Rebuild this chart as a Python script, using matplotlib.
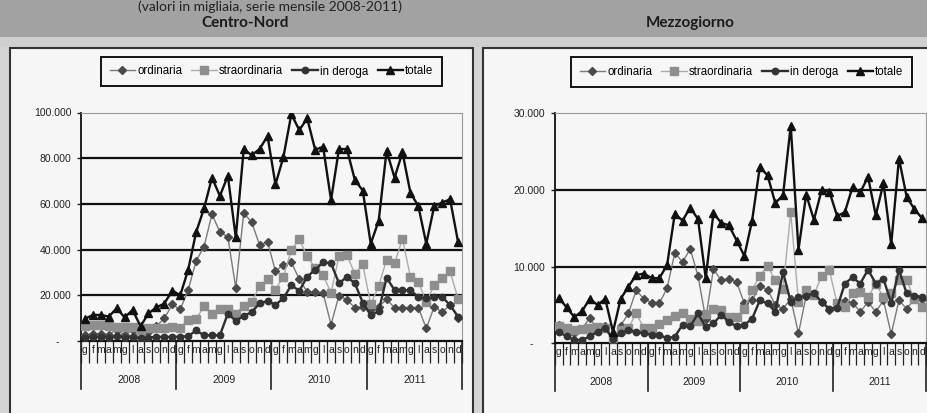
import numpy as np
import matplotlib
matplotlib.use("Agg")
import matplotlib.pyplot as plt
from matplotlib.patches import Rectangle
from matplotlib.lines import Line2D
import matplotlib.transforms as mtransforms

# ---------------- data ----------------
months = ["g", "f", "m", "a", "m", "g", "l", "a", "s", "o", "n", "d"]
years = ["2008", "2009", "2010", "2011"]
series_names = ["ordinaria", "straordinaria", "in deroga", "totale"]

cn_ordinaria = [2500, 3000, 3200, 2800, 5000, 2500, 5000, 600, 4000, 6500, 9900, 16000,
                13800, 22300, 35000, 41300, 55500, 47700, 45500, 23200, 56000, 52000, 42000, 43500,
                30500, 33400, 34500, 27000, 21500, 21300, 21000, 7200, 19900, 18000, 14600, 15000,
                14000, 15000, 18200, 14600, 14600, 14600, 14600, 5500, 15000, 12600, 15800, 10000]
cn_straordinaria = [6500, 6800, 6800, 6500, 6000, 6200, 6000, 5000, 5500, 5800, 5800, 6000,
                    5800, 9300, 9500, 15300, 11900, 13900, 14200, 12000, 15500, 17000, 24000, 27200,
                    22500, 28100, 39800, 44600, 37000, 32000, 28800, 21000, 37100, 37500, 29500, 33500,
                    16000, 24000, 35600, 34000, 44800, 28000, 25800, 17200, 24400, 27500, 30500, 18500]
cn_deroga = [1500, 1800, 1800, 1500, 2000, 1500, 1800, 1200, 1500, 1800, 1800, 1800,
             1900, 2100, 4600, 2500, 2500, 2500, 12000, 8800, 11000, 12600, 16500, 17500,
             15800, 18700, 24500, 21900, 28200, 31100, 34500, 34000, 25300, 28000, 25300, 16800,
             11300, 13000, 27700, 22300, 22200, 22200, 19300, 18700, 19300, 19300, 15700, 10700]
cn_totale = [9700, 11400, 11400, 10700, 14300, 10300, 13600, 6400, 12100, 14700, 16400, 22100,
             20000, 31100, 47600, 58000, 71500, 63500, 72300, 45300, 84000, 81300, 84000, 89700,
             68500, 80500, 99300, 92300, 97400, 83700, 85000, 61700, 84000, 84000, 70500, 65800,
             42600, 52500, 83300, 71500, 82500, 64900, 59000, 42600, 59000, 60600, 62000, 43400]

mz_ordinaria = [2400, 1900, 1300, 1900, 3300, 1800, 2300, 300, 2300, 3900, 6900, 5800,
                5300, 5200, 7200, 11800, 10600, 12300, 8800, 3200, 9700, 8200, 8400, 8000,
                5200, 5600, 7500, 7000, 5000, 4500, 5800, 1300, 6200, 6300, 5400, 4300,
                4800, 5500, 5300, 4100, 5400, 4100, 5600, 1200, 5600, 4500, 5800, 5800]
mz_straordinaria = [2200, 2000, 1800, 1900, 2000, 2100, 2000, 700, 1800, 2000, 3900, 2000,
                    2000, 2500, 3000, 3600, 3900, 3200, 2900, 3800, 4500, 4300, 3400, 3400,
                    4500, 6900, 8800, 10100, 8200, 7100, 17100, 5400, 6900, 6300, 8800, 9500,
                    5200, 4700, 6500, 6700, 6000, 7800, 6000, 6500, 8200, 8200, 5800, 4800]
mz_deroga = [1500, 900, 430, 430, 900, 1500, 2000, 500, 1300, 1700, 1500, 1300,
             1100, 1100, 650, 870, 2400, 2200, 3900, 2100, 2600, 3700, 2800, 2200,
             2400, 3200, 5600, 5200, 4100, 9300, 5400, 6000, 6200, 6500, 5400, 4500,
             4600, 7800, 8600, 7800, 9600, 7800, 8400, 5200, 9600, 6500, 6200, 6000]
mz_totale = [5900, 4700, 3400, 4200, 5800, 5000, 5800, 1500, 5800, 7400, 8900, 9100,
             8500, 8500, 10200, 16900, 16000, 17700, 16200, 8500, 17000, 15700, 15400, 13400,
             11400, 16000, 23000, 21900, 18300, 19300, 28400, 12200, 19400, 16100, 20000, 19800,
             16600, 17100, 20400, 19700, 21700, 16700, 20900, 12900, 24100, 19100, 17500, 16300]

# ---------------- figure ----------------
W, H = 928, 413
fig = plt.figure(figsize=(W / 100, H / 100), dpi=100)
fig.patch.set_facecolor("#d4d4d4")
FONT = "Liberation Sans"


def frect(x0, y0, x1, y1, **kw):
    """rectangle in pixel coordinates measured from the top-left"""
    r = Rectangle((x0 / W, 1 - y1 / H), (x1 - x0) / W, (y1 - y0) / H,
                  transform=fig.transFigure, zorder=-10, **kw)
    fig.patches.append(r)


# banner and background
frect(0, 0, W, 37, facecolor="#a2a2a2", edgecolor="none")
frect(0, 37, W, 47, facecolor="#cfcfcf", edgecolor="none")
frect(10, 48, 473, 430, facecolor="#f6f6f6", edgecolor="#333333", linewidth=1.5)
frect(483, 48, 940, 430, facecolor="#f6f6f6", edgecolor="#333333", linewidth=1.5)

fig.text(270 / W, 1 - 7 / H, "(valori in migliaia, serie mensile 2008-2011)",
         ha="center", va="center", fontsize=10, color="#222222", family="Lato")
fig.text(245 / W, 1 - 23 / H, "Centro-Nord", ha="center", va="center",
         fontsize=11, fontweight="bold", color="#1a1a1a", family="Lato")
fig.text(690 / W, 1 - 23 / H, "Mezzogiorno", ha="center", va="center",
         fontsize=11, fontweight="bold", color="#1a1a1a", family="Lato")

styles = [
    dict(marker="D", ms=3.6, color="#7a7a7a", lw=1.0, mfc="#4a4a4a", mec="#4a4a4a"),
    dict(marker="s", ms=5.2, color="#ababab", lw=1.0, mfc="#8e8e8e", mec="#8e8e8e"),
    dict(marker="o", ms=4.6, color="#2e2e2e", lw=1.7, mfc="#333333", mec="#333333"),
    dict(marker="^", ms=5.4, color="#111111", lw=1.7, mfc="#111111", mec="#111111"),
]


def fmt(v):
    if v == 0:
        return "-    "
    return f"{int(v):,}".replace(",", ".")


def make_panel(rect_px, data, ymax, ystep, legend_px):
    x0, y0, x1, y1 = rect_px
    ax = fig.add_axes([x0 / W, 1 - y1 / H, (x1 - x0) / W, (y1 - y0) / H])
    ax.set_facecolor("none")
    n = len(data[0])
    xs = np.arange(n) + 0.5
    handles = []
    for vals, st, name in zip(data, styles, series_names):
        h, = ax.plot(xs, vals, label=name, zorder=3, **st)
        handles.append(h)
    ax.set_xlim(0, n)
    ax.set_ylim(0, ymax)
    yt = np.arange(0, ymax + 1, ystep)
    ax.set_yticks(yt)
    ax.set_yticklabels([fmt(v) for v in yt], fontsize=7.5, family=FONT, color="#222222")
    ax.tick_params(axis="y", length=3, width=1.0, color="#222222", pad=4)
    for v in yt[1:-1]:
        ax.axhline(v, color="#111111", lw=1.6, zorder=1)
    # spines
    for s in ["top", "right"]:
        ax.spines[s].set_color("#9a9a9a")
        ax.spines[s].set_linewidth(0.8)
    ax.spines["left"].set_color("#111111")
    ax.spines["left"].set_linewidth(1.3)
    ax.spines["bottom"].set_color("#111111")
    ax.spines["bottom"].set_linewidth(1.6)
    # category ticks
    ax.set_xticks(np.arange(0, n + 1))
    ax.set_xticklabels([])
    ax.tick_params(axis="x", which="major", direction="out", length=16, width=0.9,
                   color="#222222")
    ax.set_xticks(xs, minor=True)
    ax.set_xticklabels(months * (n // 12), minor=True, fontsize=7.5, family=FONT,
                       color="#222222")
    ax.tick_params(axis="x", which="minor", length=0, pad=3)
    # year separators and labels
    axh = y1 - y0
    trans = mtransforms.blended_transform_factory(ax.transData, ax.transAxes)
    for b in range(0, n + 1, 12):
        ax.add_line(Line2D([b, b], [0, -48 / axh], transform=trans, color="#222222",
                           lw=1.2, clip_on=False))
    for k, yr in enumerate(years):
        ax.text(12 * k + 6, -39 / axh, yr, transform=trans, ha="center", va="center",
                fontsize=7.5, family=FONT, color="#222222")
    # legend
    lx0, ly0, lx1, ly1 = legend_px
    leg = fig.legend(handles=handles, loc="center", ncol=4,
                     bbox_to_anchor=((lx0 + lx1) / 2 / W, 1 - (ly0 + ly1) / 2 / H),
                     bbox_transform=fig.transFigure, frameon=True, fancybox=False,
                     edgecolor="#111111", facecolor="#f6f6f6", framealpha=1,
                     prop={"family": FONT, "size": 8.3}, handlelength=2.2,
                     handletextpad=0.2, columnspacing=0.8, borderpad=0.75)
    leg.get_frame().set_linewidth(1.4)
    return ax


make_panel((81, 112.5, 462, 341),
           [cn_ordinaria, cn_straordinaria, cn_deroga, cn_totale],
           100000, 20000, (100, 57, 443, 86))
make_panel((555, 113.3, 926, 343.3),
           [mz_ordinaria, mz_straordinaria, mz_deroga, mz_totale],
           30000, 10000, (570, 57, 913, 87))

fig.savefig("out.png", dpi=100, facecolor=fig.get_facecolor())
